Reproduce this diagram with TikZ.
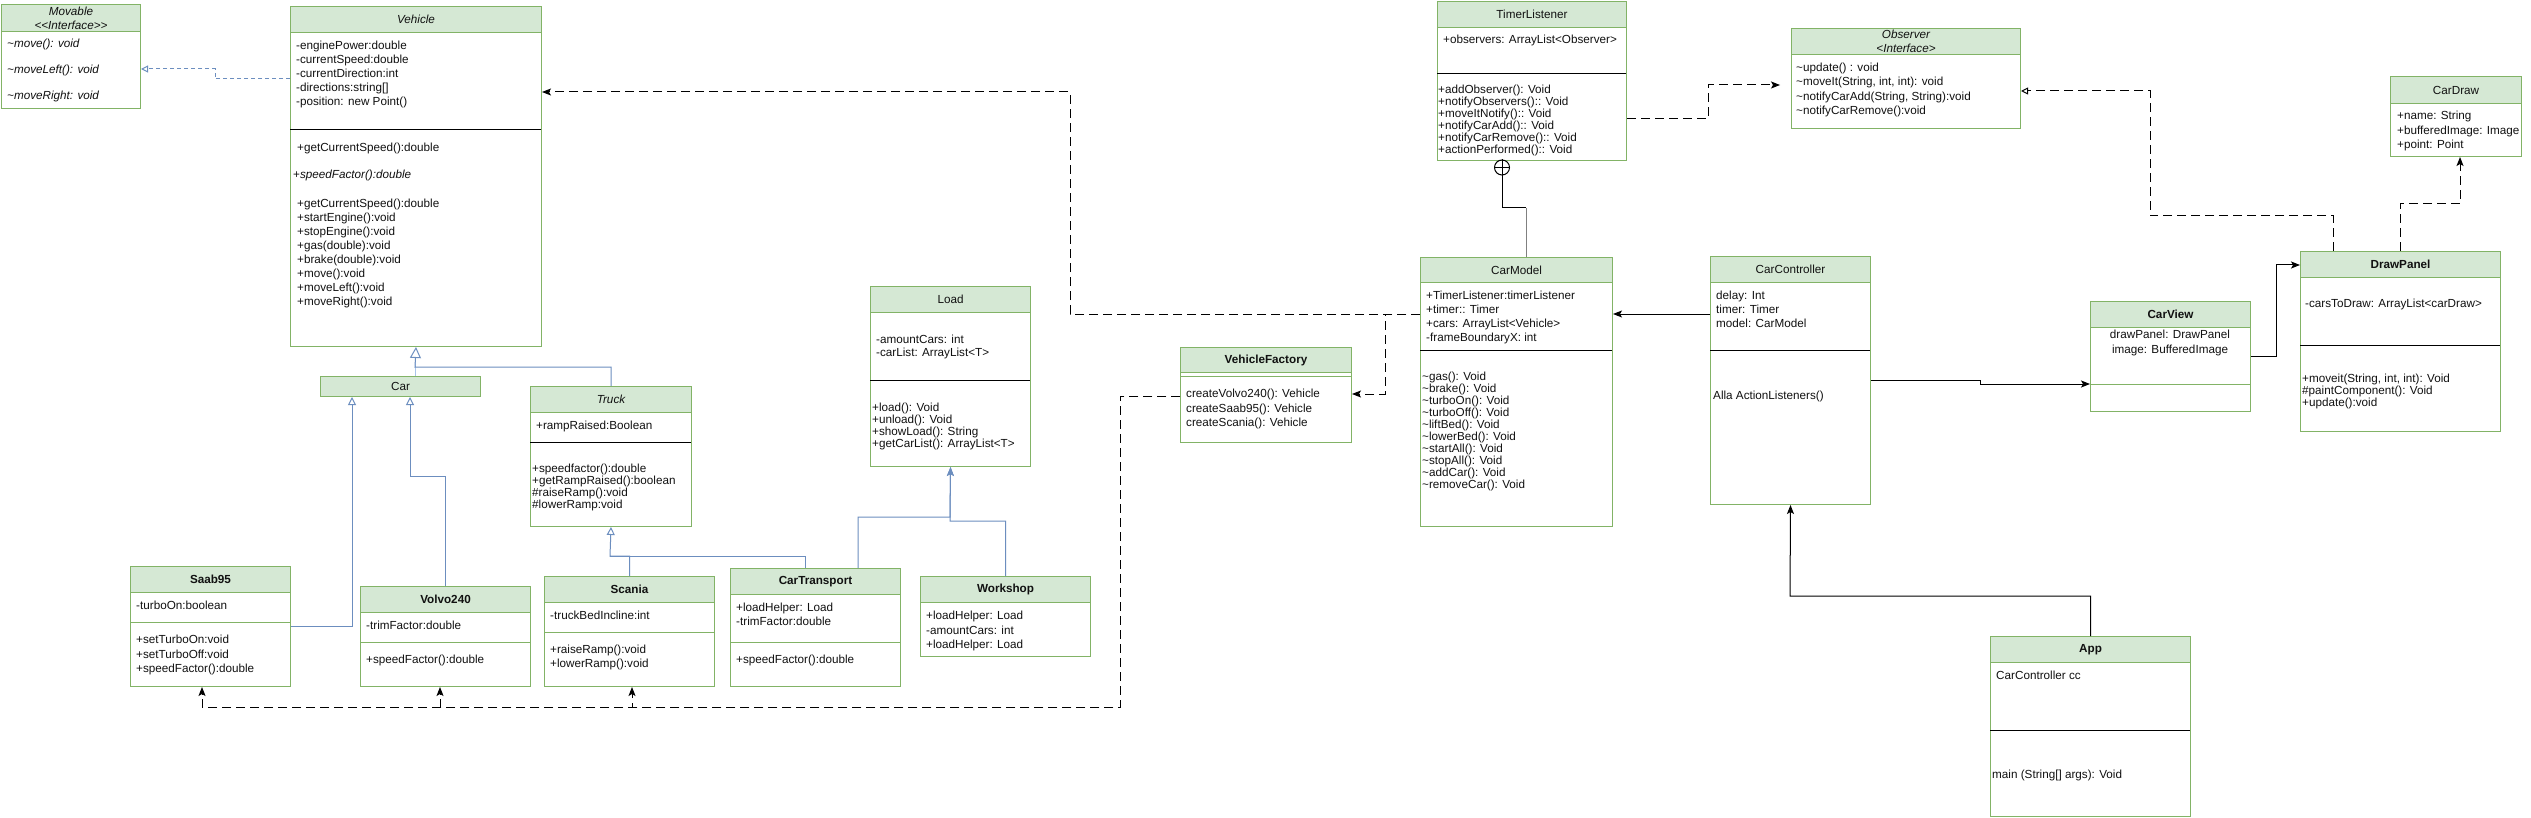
\documentclass[tikz,border=0pt]{standalone}
\usepackage{fontspec}
\setmainfont{Liberation Sans}
\usetikzlibrary{arrows.meta}
\definecolor{gline}{HTML}{82B366}
\definecolor{hfill}{HTML}{D5E8D4}
\definecolor{bline}{HTML}{6C8EBF}
\definecolor{blight}{HTML}{A9C4EB}
\definecolor{tcol}{HTML}{111111}
\newcommand\umlfa{\fontsize{11.7}{14}\selectfont}
\newcommand\umlfb{\fontsize{11.7}{12}\selectfont}
\newcommand\umlfs[1]{\fontsize{11.7}{#1}\selectfont}
\newcommand\umltil{\textasciitilde}
\tikzset{
  classbox/.style={draw=gline, line width=1pt, fill=white, inner sep=0, anchor=north west},
  hdrbox/.style={draw=gline, line width=1pt, fill=hfill, inner sep=0, anchor=north west, align=center, text=tcol, font=\umlfa},
  txt/.style={font=\umlfa, text=tcol, inner sep=0, anchor=north west, align=left},
  txtb/.style={font=\umlfb, text=tcol, inner sep=0, anchor=north west, align=left},
  sepk/.style={line width=1pt, draw=black},
  sepg/.style={line width=1pt, draw=gline},
  conn/.style={line width=1pt, draw=black},
  dep/.style={conn, dash pattern=on 9pt off 5pt, -{Stealth[length=9pt,width=7pt,inset=2pt]}},
  assoc/.style={conn, -{Stealth[length=9pt,width=7pt,inset=2pt]}},
  assocb/.style={line width=1pt, draw=bline, -{Stealth[length=9pt,width=7pt,inset=2pt]}},
  gen/.style={line width=1pt, draw=bline, -{Triangle[open,length=8pt,width=8pt]}},
  genbig/.style={line width=1pt, draw=bline, -{Triangle[open,length=11pt,width=11pt]}},
  realize/.style={line width=1pt, draw=bline, dash pattern=on 4pt off 3pt, -{Triangle[open,length=7pt,width=7pt]}},
  realizek/.style={conn, dash pattern=on 9pt off 5pt, -{Triangle[open,length=7pt,width=7pt]}},
}
\newcommand\umlbox[8]{%
  \node[classbox, minimum width={(#4-#2)*1pt}, minimum height={(#5-#3)*1pt}] (#1) at (#2,#3) {};
  \node[hdrbox, font=\umlfa#7, minimum width={(#4-#2)*1pt}, minimum height={(#6-#3)*1pt}] (#1-h) at (#2,#3) {#8};
}
\begin{document}
\begin{tikzpicture}[x=1pt,y=-1pt]
\fill[white] (0,0) rectangle (2531,818);
\useasboundingbox (0,0) rectangle (2531,818);

% ---------- boxes ----------
\umlbox{movable}{1}{4}{140}{108}{31}{\itshape}{Movable\\<{}<Interface>{}>}
\umlbox{vehicle}{290}{6}{541}{346}{32}{\itshape}{Vehicle}
\umlbox{car}{320}{376}{480}{396}{396}{\upshape\mdseries}{Car}
\umlbox{truck}{530}{386}{691}{526}{412}{\itshape}{Truck}
\umlbox{saab}{130}{566}{290}{686}{592}{\bfseries}{Saab95}
\umlbox{volvo}{360}{586}{530}{686}{612}{\bfseries}{Volvo240}
\umlbox{scania}{544}{576}{714}{686}{602}{\bfseries}{Scania}
\umlbox{cartransport}{730}{568}{900}{686}{594}{\bfseries}{CarTransport}
\umlbox{workshop}{920}{576}{1090}{656}{602}{\bfseries}{Workshop}
\umlbox{load}{870}{286}{1030}{466}{312}{\upshape\mdseries}{Load}
\umlbox{timer}{1437}{1}{1626}{160}{27}{\upshape\mdseries}{TimerListener}
\umlbox{carmodel}{1420}{257}{1612}{526}{282}{\upshape\mdseries}{CarModel}
\umlbox{vfactory}{1180}{347}{1351}{442}{372}{\bfseries}{VehicleFactory}
\umlbox{observer}{1791}{28}{2020}{128}{54}{\itshape}{Observer\\<Interface>}
\umlbox{cardraw}{2390}{76}{2521}{156}{103}{\upshape\mdseries}{CarDraw}
\umlbox{drawpanel}{2300}{251}{2500}{431}{277}{\bfseries}{DrawPanel}
\umlbox{carview}{2090}{301}{2250}{411}{327}{\bfseries}{CarView}
\umlbox{carcontroller}{1710}{256}{1870}{504}{282}{\upshape\mdseries}{CarController}
\umlbox{app}{1990}{636}{2190}{816}{662}{\bfseries}{App}

% ---------- separators ----------
\draw[sepk] (290,130) -- (541,130);
\draw[sepk] (530,442) -- (691,442);
\draw[sepg] (130,622) -- (290,622);
\draw[sepg] (360,642) -- (530,642);
\draw[sepg] (544,632) -- (714,632);
\draw[sepg] (730,642) -- (900,642);
\draw[sepk] (870,380) -- (1030,380);
\draw[sepk] (1437,74) -- (1626,74);
\draw[sepk] (1420,350) -- (1612,350);
\draw[sepg] (1180,376) -- (1351,376);
\draw[sepk] (2300,345) -- (2500,345);
\draw[sepg] (2090,384) -- (2250,384);
\draw[sepk] (1710,350) -- (1870,350);
\draw[sepk] (1990,730) -- (2190,730);

% ---------- texts ----------
\node[txt, font=\umlfs{26}\itshape] (movable-m) at (7,39)
  {\umltil move(): void\\\umltil moveLeft(): void\\\umltil moveRight: void};

\node[txt] (vehicle-a) at (296,41)
  {-enginePower:double\\-currentSpeed:double\\-currentDirection:int\\-directions:string[]\\-position: new Point()};
\node[txt] (vehicle-m1) at (297,143) {+getCurrentSpeed():double};
\node[txt] (vehicle-m2) at (293,170) {+\textit{speedFactor():double}};
\node[txt] (vehicle-m3) at (297,199)
  {+getCurrentSpeed():double\\+startEngine():void\\+stopEngine():void\\+gas(double):void\\+brake(double):void\\+move():void\\+moveLeft():void\\+moveRight():void};

\node[txt] (truck-a) at (536,421) {+rampRaised:Boolean};
\node[txtb] (truck-m) at (532,464)
  {+speedfactor():double\\+getRampRaised():boolean\\\#raiseRamp():void\\\#lowerRamp:void};

\node[txt] (saab-a) at (136,601) {-turboOn:boolean};
\node[txt, font=\umlfs{14.5}] (saab-m) at (136,635)
  {+setTurboOn:void\\+setTurboOff:void\\+speedFactor():double};

\node[txt] (volvo-a) at (366,621) {-trimFactor:double};
\node[txt] (volvo-m) at (366,655) {+speedFactor():double};

\node[txt] (scania-a) at (550,611) {-truckBedIncline:int};
\node[txt] (scania-m) at (550,645) {+raiseRamp():void\\+lowerRamp():void};

\node[txt] (cartransport-a) at (736,603) {+loadHelper: Load\\-trimFactor:double};
\node[txt] (cartransport-m) at (736,655) {+speedFactor():double};

\node[txt, font=\umlfs{14.5}] (workshop-a) at (926,611)
  {+loadHelper: Load\\-amountCars: int\\+loadHelper: Load};

\node[txt, font=\umlfs{13}] (load-a) at (876,335) {-amountCars: int\\-carList: ArrayList<T>};
\node[txtb] (load-m) at (872,403)
  {+load(): Void\\+unload(): Void\\+showLoad(): String\\+getCarList(): ArrayList<T>};

\node[txt] (timer-a) at (1443,35) {+observers: ArrayList<Observer>};
\node[txtb] (timer-m) at (1438,85)
  {+addObserver(): Void\\+notifyObservers():: Void\\+moveItNotify():: Void\\+notifyCarAdd():: Void\\+notifyCarRemove():: Void\\+actionPerformed():: Void};

\node[txt] (carmodel-a) at (1426,291)
  {+TimerListener:timerListener\\+timer:: Timer\\+cars: ArrayList<Vehicle>\\-frameBoundaryX: int};
\node[txtb] (carmodel-m) at (1422,372)
  {\umltil gas(): Void\\\umltil brake(): Void\\\umltil turboOn(): Void\\\umltil turboOff(): Void\\\umltil liftBed(): Void\\\umltil lowerBed(): Void\\\umltil startAll(): Void\\\umltil stopAll(): Void\\\umltil addCar(): Void\\\umltil removeCar(): Void};

\node[txt, font=\umlfs{14.5}] (vfactory-m) at (1186,389)
  {createVolvo240(): Vehicle\\createSaab95(): Vehicle\\createScania(): Vehicle};

\node[txt, font=\umlfs{14.3}] (observer-m) at (1796,63)
  {\umltil update() : void\\\umltil moveIt(String, int, int): void\\\umltil notifyCarAdd(String, String):void\\\umltil notifyCarRemove():void};

\node[txt, font=\umlfs{14.5}] (cardraw-a) at (2397,111)
  {+name: String\\+bufferedImage: Image\\+point: Point};

\node[txt] (drawpanel-a) at (2305,299) {-carsToDraw: ArrayList<carDraw>};
\node[txtb] (drawpanel-m) at (2302,374)
  {+moveit(String, int, int): Void\\\#paintComponent(): Void\\+update():void};

\node[txt, anchor=north, align=center, font=\umlfs{15}] (carview-a) at (2170,330)
  {drawPanel: DrawPanel\\image: BufferedImage};

\node[txt] (carcontroller-a) at (1716,291) {delay: Int\\timer: Timer\\model: CarModel};
\node[txt] (carcontroller-m) at (1713,391) {Alla ActionListeners()};

\node[txt] (app-a) at (1996,671) {CarController cc};
\node[txt] (app-m) at (1992,770) {main (String[] args): Void};

% ---------- connectors ----------
% Vehicle realizes Movable
\draw[realize] (vehicle.west |- 0,79) -| (215,69) -- (movable.east |- 0,69);
% Car, Truck -> Vehicle
\draw[line width=1pt, draw=blight] (car.north -| 415,0) -- (415,358);
\draw[genbig] (truck.north) |- (415,367) -- (vehicle.south);
% Saab, Volvo -> Car
\draw[gen] (saab.east |- 0,626) -| (car.south -| 352,0);
\draw[gen] (volvo.north) |- (410,476) -- (car.south -| 410,0);
% Scania, CarTransport -> Truck
\draw[gen] (scania.north) |- (610,556) -- (truck.south);
\draw[line width=1pt, draw=bline] (cartransport.north -| 805,0) |- (610,556);
% CarTransport, Workshop -> Load
\draw[assocb] (cartransport.north -| 858,0) |- (950,517) -- (load.south);
\draw[assocb] (workshop.north) |- (950,521) -- (load.south);
% CarModel -> Vehicle, VehicleFactory
\draw[dep] (carmodel.west |- 0,314) -| (1070,92) -- (vehicle.east |- 0,92);
\draw[dep] (carmodel.west |- 0,314) -| (1385,394) -- (vfactory.east |- 0,394);
% VehicleFactory -> Saab, Volvo, Scania
\draw[dep] (vfactory.west |- 0,396) -| (1120,707) -| (saab.south -| 202,0);
\draw[dep] (vfactory.west |- 0,396) -| (1120,707) -| (volvo.south -| 440,0);
\draw[dep] (vfactory.west |- 0,396) -| (1120,707) -| (scania.south -| 632,0);
% TimerListener nested in CarModel
\node[circle, draw=black, line width=1pt, minimum size=15pt, inner sep=0] (nest) at (1502,167.5) {};
\draw[conn] (nest.north) -- (nest.south) (nest.west) -- (nest.east);
\draw[conn] (nest.south) |- (1526,208);
\draw[conn, draw=gray] (1526,208) -- (carmodel.north -| 1526,0);
% TimerListener -> Observer
\coordinate (obsin) at (1780,85);
\draw[dep] (timer.east |- 0,119) -| (1708,85) -- (obsin);
% DrawPanel realizes Observer
\draw[realizek] (drawpanel.north -| 2333,0) |- (2150,216) |- (observer.east |- 0,91);
% DrawPanel -> CarDraw
\draw[dep] (drawpanel.north -| 2400,0) |- (2460,204) -- (cardraw.south -| 2460,0);
% CarController -> CarModel, CarView
\draw[assoc] (carcontroller.west |- 0,314) -- (carmodel.east |- 0,314);
\draw[assoc] (carcontroller.east |- 0,380) -| (1980,384) -- (carview.west |- 0,384);
% CarView -> DrawPanel
\draw[assoc] (carview.east |- 0,356) -| (2276,265) -- (drawpanel.west |- 0,265);
% App -> CarController
\draw[assoc] (app.north) |- (1790,596) -- (carcontroller.south);
\end{tikzpicture}
\end{document}
